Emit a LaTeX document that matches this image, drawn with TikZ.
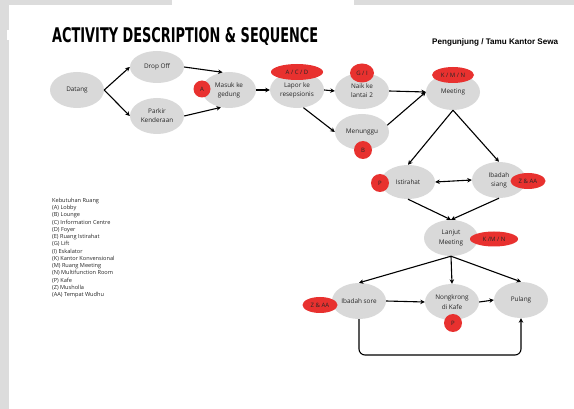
\documentclass[tikz,border=0pt]{standalone}
\usepackage{fontspec}
\setmainfont{Open Sans}
\newfontfamily\titlefont{DejaVu Sans Condensed}
\newfontfamily\subfont{Liberation Sans}
\usetikzlibrary{shapes.geometric,arrows.meta}
\definecolor{actgray}{HTML}{D9D9D9}
\definecolor{tagred}{HTML}{E8312F}
\definecolor{framegray}{HTML}{DCDCDC}
\tikzset{
  act/.style={ellipse, fill=actgray, minimum width=54pt, minimum height=36pt,
    inner sep=0pt, align=center, text=black!85,
    font=\fontsize{6.4}{9.2}\selectfont},
  tag/.style={ellipse, fill=tagred, inner sep=0pt, text=black!85,
    font=\fontsize{6}{7}\selectfont},
  arr/.style={line width=1.1pt, -{Stealth[length=4.5pt,width=4.5pt]}},
  darr/.style={line width=1.1pt, {Stealth[length=4.5pt,width=4.5pt]}-{Stealth[length=4.5pt,width=4.5pt]}}
}
\begin{document}
\begin{tikzpicture}[x=1pt,y=-1pt]
% page and window frame
\fill[white] (0,0) rectangle (574,409);
\useasboundingbox (0,0) rectangle (574,409);
\fill[framegray] (0,0) rectangle (172,5);
\fill[framegray] (354,0) rectangle (574,5);
\fill[framegray] (0,0) rectangle (9,409);
\fill[white] (7,30) rectangle (12,40);

% headings
\node[anchor=south west, inner sep=0pt] (title) at (52,46)
  {\resizebox{266pt}{15pt}{\titlefont\bfseries ACTIVITY DESCRIPTION \& SEQUENCE}};
\node[anchor=south west, inner sep=0pt] (user) at (432,46)
  {\resizebox{126pt}{!}{\subfont\bfseries Pengunjung / Tamu Kantor Sewa}};

% activities
\node[act] (datang) at (77,90) {Datang};
\node[act, minimum height=32pt] (dropoff) at (157,67) {Drop Off};
\node[act] (parkir) at (157,116) {Parkir\\Kenderaan};
\node[act] (masuk) at (229,90) {Masuk ke\\gedung};
\node[act] (lapor) at (297,90) {Lapor ke\\resepsionis};
\node[act] (naik) at (362,91) {Naik ke\\lantai 2};
\node[act] (meeting) at (453,92) {Meeting};
\node[act] (menunggu) at (362,132) {Menunggu};
\node[act, minimum height=34pt] (istirahat) at (408,182) {Istirahat};
\node[act] (siang) at (499,180) {Ibadah\\siang};
\node[act] (lanjut) at (451,238) {Lanjut\\Meeting};
\node[act] (sore) at (359,301) {Ibadah sore};
\node[act] (kafe) at (452,302) {Nongkrong\\di Kafe};
\node[act] (pulang) at (521,300) {Pulang};

% room codes
\node[tag, minimum width=17pt, minimum height=17pt] (tagA) at (202,89) {A};
\node[tag, minimum width=52pt, minimum height=16pt] (tagACD) at (297,72) {A / C / D};
\node[tag, minimum width=24pt, minimum height=19pt] (tagGI) at (362,73) {G / I};
\node[tag, minimum width=42pt, minimum height=16pt] (tagKMN) at (453,75) {K / M / N};
\node[tag, minimum width=18pt, minimum height=18pt] (tagB) at (363,150) {B};
\node[tag, minimum width=18pt, minimum height=18pt] (tagP) at (380,183) {P};
\node[tag, minimum width=35pt, minimum height=16pt] (tagZ) at (528,181) {Z \& AA};
\node[tag, minimum width=48pt, minimum height=15pt] (tagKMNb) at (494,239) {K /M / N};
\node[tag, minimum width=35pt, minimum height=16pt] (tagZb) at (320,305) {Z \& AA};
\node[tag, minimum width=18pt, minimum height=18pt] (tagPb) at (453,323) {P};

% sequence
\draw[arr] (datang.east) -- (dropoff.west);
\draw[arr] (datang.east) -- (parkir.west);
\draw[arr] (dropoff.east) -- (masuk.110);
\draw[arr] (parkir.east) -- (masuk.245);
\draw[arr] (masuk.east) -- (lapor.west);
\draw[arr] (lapor.east) -- (naik.west);
\draw[arr] (lapor.290) -- (menunggu.west);
\coordinate (meetin) at (meeting.west);
\draw[arr] (naik.east) -- (meetin);
\draw[arr] (menunggu.15) -- (meetin);
\draw[arr] (meeting.south) -- (istirahat.north);
\draw[arr] (meeting.south) -- (siang.north);
\draw[darr] (istirahat.east) -- (siang.west);
\draw[arr] (istirahat.south) -- (lanjut.north);
\draw[arr] (siang.south) -- (lanjut.north);
\draw[arr] (lanjut.south) -- (sore.north);
\draw[arr] (lanjut.south) -- (kafe.north);
\draw[arr] (lanjut.south) -- (pulang.north);
\draw[arr] (sore.east) -- (kafe.west);
\draw[arr] (kafe.east) -- (pulang.west);
\draw[arr, rounded corners=6pt] (sore.south) -- (sore.south |- 0,355) -| (pulang.south);

% room legend
\node[anchor=north west, inner sep=0pt, align=left, text=black!85,
  font=\fontsize{5.6}{7.25}\selectfont] (legend) at (52,198)
  {Kebutuhan Ruang\\
   (A) Lobby\\
   (B) Lounge\\
   (C) Information Centre\\
   (D) Foyer\\
   (E) Ruang Istirahat\\
   (G) Lift\\
   (I) Eskalator\\
   (K) Kantor Konvensional\\
   (M) Ruang Meeting\\
   (N) Multifunction Room\\
   (P) Kafe\\
   (Z) Musholla\\
   (AA) Tempat Wudhu};
\end{tikzpicture}
\end{document}
